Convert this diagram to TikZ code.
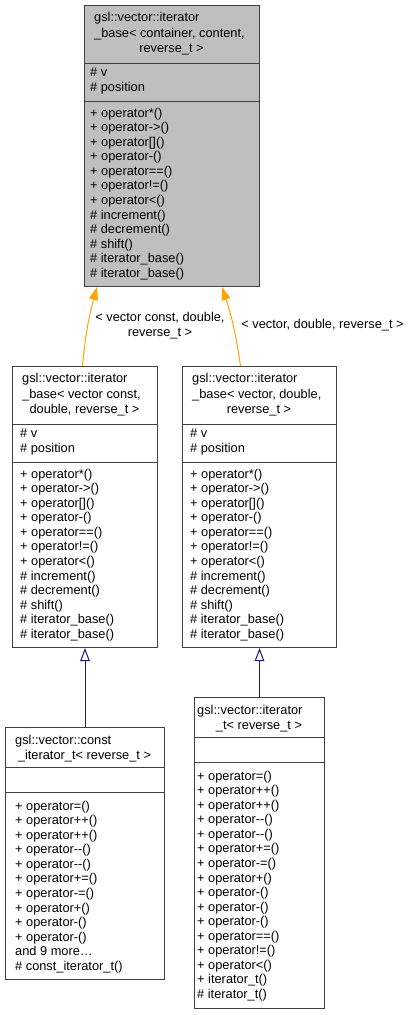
\documentclass[tikz,border=0pt]{standalone}
\usepackage{fontspec}
\setmainfont{Liberation Sans}
\usepackage{tikz}
\usetikzlibrary{arrows.meta,calc}
\definecolor{dxedge}{HTML}{404040}
\definecolor{dxgray}{HTML}{BFBFBF}
\definecolor{dxorange}{HTML}{FFA500}
\definecolor{dxblue}{HTML}{191970}
\newcommand{\dxfont}{\fontsize{12.8}{15}\selectfont}
\newcommand{\baseops}{{+ operator*()},{+ operator->()},{+ operator[]()},
  {+ operator-()},{+ operator==()},{+ operator!=()},{+ operator<()},
  {\# increment()},{\# decrement()},{\# shift()},{\# iterator\_base()},
  {\# iterator\_base()}}
\tikzset{
  clsbox/.style={draw=dxedge,line width=1pt,anchor=north west,inner sep=0pt},
  basebox/.style={clsbox,fill=dxgray},
  clsline/.style={draw=dxedge,line width=1pt},
  mtxt/.style={anchor=west,inner sep=0pt,font=\dxfont,text height=9pt,
    text depth=3pt,yshift=-1.2pt},
  ttxt/.style={anchor=center,inner sep=0pt,font=\dxfont,text height=9pt,
    text depth=3pt,yshift=-1.2pt},
  tmpl/.style={draw=dxorange,line width=1pt,
    -{Triangle[length=13pt,width=9pt]}},
  inh/.style={draw=dxblue,line width=1pt,
    -{Triangle[open,length=13pt,width=9.5pt]}},
  elbl/.style={font=\dxfont,align=center,inner sep=0pt},
}

\begin{document}
\begin{tikzpicture}[x=1pt,y=-1pt]
  \useasboundingbox (0,0) rectangle (413,1015);
  \node[basebox,minimum width=175pt,minimum height=281pt] (base) at (84,5) {};
  \node[clsbox,minimum width=145pt,minimum height=281pt] (vcb) at (12,366) {};
  \node[clsbox,minimum width=154pt,minimum height=281pt] (vb) at (182,366) {};
  \node[clsbox,minimum width=159pt,minimum height=252pt] (cit) at (5,727) {};
  \node[clsbox,minimum width=130pt,minimum height=311pt] (it) at (194,697) {};

  \foreach \lx/\rx/\ty in {84/259/5,12/157/366,182/336/366}{
    \draw[clsline] (\lx,\ty+58) -- (\rx,\ty+58);
    \draw[clsline] (\lx,\ty+96) -- (\rx,\ty+96);
  }
  \draw[clsline] (5,767) -- (164,767);
  \draw[clsline] (5,792) -- (164,792);
  \draw[clsline] (194,737) -- (324,737);
  \draw[clsline] (194,762) -- (324,762);

  \node[mtxt] (base-t1) at (94,17.5) {gsl::vector::iterator};
  \node[mtxt] (base-t2) at (94,33) {\_base< container, content,};
  \node[ttxt] (base-t3) at (171.5,48) {reverse\_t >};
  \node[mtxt] (vcb-t1) at (22,378.5) {gsl::vector::iterator};
  \node[mtxt] (vcb-t2) at (22,394) {\_base< vector const,};
  \node[ttxt] (vcb-t3) at (84.5,409) {double, reverse\_t >};
  \node[mtxt] (vb-t1) at (192,378.5) {gsl::vector::iterator};
  \node[mtxt] (vb-t2) at (192,394) {\_base< vector, double,};
  \node[ttxt] (vb-t3) at (259,409) {reverse\_t >};
  \node[mtxt] (cit-t1) at (15,740) {gsl::vector::const};
  \node[ttxt] (cit-t2) at (84.5,755) {\_iterator\_t< reverse\_t >};
  \node[mtxt] (it-t1) at (197,710) {gsl::vector::iterator};
  \node[ttxt] (it-t2) at (259,725) {\_t< reverse\_t >};

  \foreach \bx/\mx/\ty in {base/90/5,vcb/20/366,vb/190/366}{
    \node[mtxt] (\bx-v) at (\mx,\ty+67) {\# v};
    \node[mtxt] (\bx-pos) at (\mx,\ty+82) {\# position};
    \foreach \m [count=\i from 0] in \baseops
      \node[mtxt] (\bx-m\i) at (\mx,\ty+108+14.55*\i) {\m};
  }
  \foreach \m [count=\i from 0] in {{+ operator=()},{+ operator++()},
      {+ operator++()},{+ operator-{}-()},{+ operator-{}-()},{+ operator+=()},
      {+ operator-=()},{+ operator+()},{+ operator-()},{+ operator-()},
      {and 9 more\ldots},{\# const\_iterator\_t()}}
    \node[mtxt] (cit-m\i) at (15,806+14.55*\i) {\m};
  \foreach \m [count=\i from 0] in {{+ operator=()},{+ operator++()},
      {+ operator++()},{+ operator-{}-()},{+ operator-{}-()},{+ operator+=()},
      {+ operator-=()},{+ operator+()},{+ operator-()},{+ operator-()},
      {+ operator-()},{+ operator==()},{+ operator!=()},{+ operator<()},
      {+ iterator\_t()},{\# iterator\_t()}}
    \node[mtxt] (it-m\i) at (197,776+14.55*\i) {\m};

  \coordinate (bt1) at ($(base.south west)+(13,0)$);
  \coordinate (bt2) at ($(base.south west)+(138,0)$);
  \draw[tmpl] ([xshift=-2.5pt]vcb.north) to[bend left=5] (bt1);
  \draw[tmpl] ([xshift=-19pt]vb.north) to[bend right=5] (bt2);
  \node[elbl] (l1) at (160,325.5) {< vector const, double,\\reverse\_t >};
  \node[elbl] (l2) at (322.5,325) {< vector, double, reverse\_t >};
  \draw[inh] (cit.north) -- (vcb.south);
  \draw[inh] (it.north) -- (vb.south);
\end{tikzpicture}
\end{document}
